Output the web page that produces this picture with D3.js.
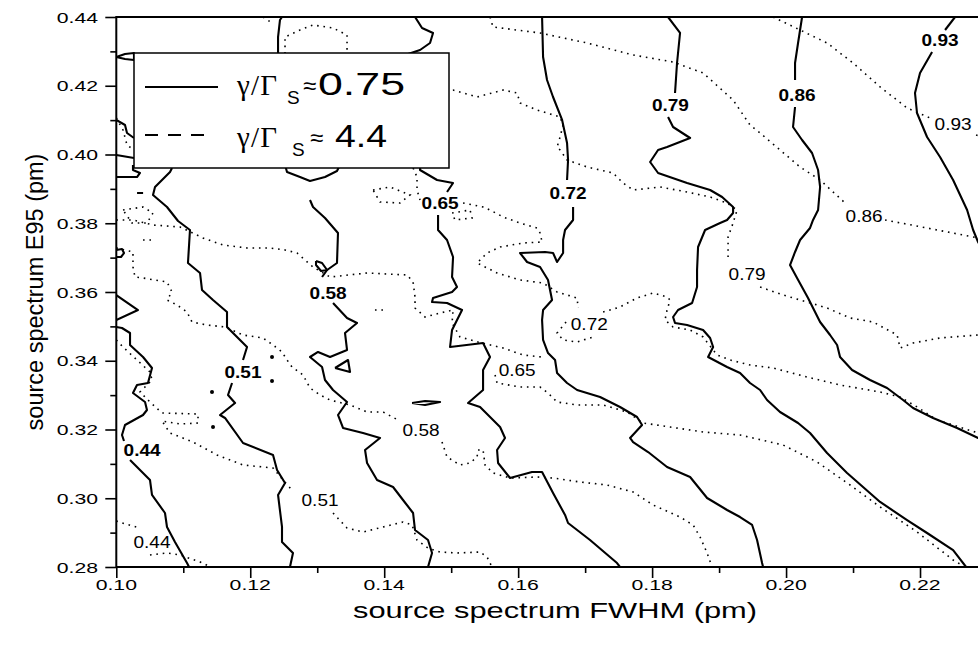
<!DOCTYPE html>
<html><head><meta charset="utf-8">
<script src="https://cdn.jsdelivr.net/npm/d3@7"></script>
<style>body{margin:0;background:#fff}svg{display:block}</style></head>
<body><svg id="c" width="978" height="645"></svg>
<script>
// ---------------- data ----------------
const xMajor = [0.10,0.12,0.14,0.16,0.18,0.20,0.22];
const xMinor = [0.11,0.13,0.15,0.17,0.19,0.21,0.23];
const yMajor = [0.28,0.30,0.32,0.34,0.36,0.38,0.40,0.42,0.44];
const yMinor = [0.29,0.31,0.33,0.35,0.37,0.39,0.41,0.43];
const xTitle = "source spectrum FWHM (pm)";
const yTitle = "source spectrum E95 (pm)";
const levels = ["0.44","0.51","0.58","0.65","0.72","0.79","0.86","0.93"];
const legendValues = ["0.75","4.4"];

// series A: gamma/Gamma_S ~ 0.75 (solid), each level is a list of segments of [FWHM, E95]
const s44 = [[[0.1000,0.3591],[0.10324,0.35476],[0.1000,0.35185]],
 [[0.1000,0.3498],[0.10085,0.34953],[0.10205,0.34807],[0.10205,0.34458],[0.10399,0.34109],[0.10533,0.33789],[0.10473,0.33353],[0.10309,0.33295],[0.10249,0.33062],[0.10429,0.328],[0.10458,0.32567],[0.10399,0.32422],[0.1013,0.32131],[0.10085,0.3184],[0.10115,0.31665]],
 [[0.10205,0.31113],[0.10503,0.30531],[0.10533,0.30095],[0.10727,0.29571],[0.10757,0.29164],[0.10876,0.28727],[0.11056,0.28116],[0.11086,0.28]]];
const s51 = [[[0.10832,0.39607],[0.10802,0.39491],[0.10578,0.39055],[0.10548,0.38822],[0.10757,0.38473],[0.10922,0.38065],[0.111,0.37804],[0.1107,0.36844],[0.1125,0.36553],[0.1128,0.36058],[0.11444,0.35767],[0.11653,0.35418],[0.11653,0.34982],[0.11952,0.344],[0.11892,0.34022]],
 [[0.11728,0.33353],[0.11668,0.33004],[0.11773,0.32771],[0.11549,0.32422],[0.11623,0.32335],[0.11892,0.31607],[0.1234,0.31258],[0.124,0.30822],[0.12519,0.30444],[0.12415,0.30095],[0.12474,0.29164],[0.12474,0.28727],[0.12638,0.28407],[0.12593,0.28]]];
const s58 = [[[0.12474,0.44],[0.12444,0.43913],[0.12415,0.43418],[0.12415,0.42749]],
 [[0.12519,0.39695],[0.12549,0.39491],[0.12743,0.39345],[0.12892,0.39229],[0.13116,0.39345],[0.13295,0.3952],[0.1334,0.39695]],
 [[0.12892,0.38676],[0.12937,0.38473],[0.13116,0.38153],[0.1331,0.37716],[0.13295,0.36844],[0.13147,0.3664],[0.13072,0.36436]],
 [[0.13236,0.3568],[0.13445,0.35244],[0.13594,0.35098],[0.13415,0.34807],[0.13445,0.34313],[0.13191,0.34109],[0.13012,0.34255],[0.12892,0.34109],[0.13072,0.33818],[0.13116,0.3344],[0.13236,0.33149],[0.13445,0.328],[0.1331,0.32422],[0.13385,0.32044],[0.13684,0.31898],[0.13938,0.31753],[0.13714,0.31404],[0.13744,0.31025],[0.13893,0.30531],[0.14132,0.30327],[0.14281,0.29949],[0.14431,0.29571],[0.1446,0.29076],[0.14654,0.28785],[0.14714,0.28407],[0.14654,0.28]]];
const s65 = [[[0.1446,0.44],[0.14565,0.4368],[0.14729,0.43535],[0.14684,0.43244],[0.14535,0.4304],[0.14311,0.42895]],
 [[0.14535,0.39695],[0.14535,0.39549],[0.14789,0.39258],[0.15028,0.39171],[0.14938,0.38909]],
 [[0.14804,0.3824],[0.14804,0.37804],[0.14938,0.37513],[0.15028,0.37018],[0.15013,0.36436],[0.15087,0.36145],[0.15013,0.36],[0.14729,0.35825],[0.14714,0.35709],[0.14938,0.3568],[0.15162,0.35476],[0.15013,0.34895],[0.14983,0.344],[0.15476,0.34516],[0.1558,0.34109],[0.15476,0.33731],[0.15476,0.33149],[0.15252,0.32771],[0.15431,0.32655],[0.1573,0.32073],[0.15804,0.31753],[0.15685,0.31404],[0.157,0.31025],[0.15879,0.30589],[0.16207,0.30764],[0.16357,0.30764],[0.16521,0.30153],[0.167,0.29513],[0.16745,0.2928],[0.17073,0.28785],[0.17476,0.28116],[0.17521,0.28]]];
const s72 = [[[0.16357,0.44],[0.16372,0.42836],[0.16431,0.42167],[0.16521,0.41673],[0.16656,0.41004],[0.1673,0.40335],[0.16745,0.3984],[0.1673,0.39258]],
 [[0.1682,0.38473],[0.1682,0.38095],[0.167,0.37804],[0.16671,0.37513],[0.16671,0.37135],[0.16581,0.36873],[0.16521,0.37135],[0.16402,0.37164],[0.16028,0.37135],[0.16133,0.36873],[0.16327,0.36727],[0.16446,0.36349],[0.16506,0.35767],[0.16372,0.35476],[0.16357,0.35185],[0.16372,0.34604],[0.16446,0.34225],[0.16551,0.34022],[0.16581,0.33644],[0.1673,0.33353],[0.1688,0.33149],[0.17223,0.32945],[0.17521,0.32655],[0.17775,0.32364],[0.1785,0.32131],[0.17671,0.31753],[0.17716,0.31636],[0.1794,0.31345],[0.18223,0.30909],[0.18567,0.30618],[0.18821,0.30007],[0.19119,0.29658],[0.19313,0.29454],[0.19493,0.29222],[0.19567,0.28785],[0.19642,0.28116],[0.19657,0.28]]];
const s79 = [[[0.18238,0.44],[0.18417,0.43535],[0.18372,0.42662],[0.18342,0.41789]],
 [[0.18238,0.41091],[0.18313,0.408],[0.18567,0.4048],[0.18223,0.40218],[0.18089,0.40131],[0.1797,0.39782],[0.18089,0.39462],[0.18522,0.39171],[0.18866,0.38967],[0.19045,0.38764],[0.19209,0.38473],[0.19209,0.38298],[0.19119,0.38095],[0.19015,0.38007],[0.18791,0.37804],[0.18686,0.37309],[0.18671,0.3664],[0.18671,0.36145],[0.18597,0.3568],[0.18387,0.35476],[0.18313,0.35273],[0.18342,0.35098],[0.18522,0.3504],[0.18761,0.34895],[0.18866,0.34662],[0.18911,0.344],[0.18836,0.34109],[0.19119,0.33818],[0.19313,0.33644],[0.19462,0.33353],[0.19612,0.33149],[0.19716,0.32858],[0.1991,0.32509],[0.20179,0.32189],[0.20358,0.31898],[0.20612,0.31316],[0.20911,0.30735],[0.21404,0.29891],[0.21807,0.29367],[0.22105,0.28989],[0.22494,0.28494],[0.22688,0.28]]];
const s86 = [[[0.20239,0.44],[0.20179,0.43244],[0.20134,0.42662],[0.20134,0.42167]],
 [[0.20134,0.41382],[0.20104,0.408],[0.20239,0.40422],[0.20388,0.40044],[0.20478,0.39549],[0.20508,0.39055],[0.20478,0.38385],[0.20403,0.38095],[0.20358,0.37862],[0.20209,0.37513],[0.20134,0.37164],[0.20059,0.36785],[0.20164,0.36407],[0.20328,0.35825],[0.20508,0.35127],[0.20657,0.34749],[0.20762,0.34458],[0.20806,0.34109],[0.20986,0.33731],[0.21254,0.3344],[0.21508,0.33207],[0.21747,0.32858],[0.21896,0.32625],[0.22195,0.32335],[0.22553,0.32044],[0.22867,0.31753],[0.23046,0.31607]]];
const s93 = [[[0.22523,0.44],[0.22374,0.43622]],
 [[0.2218,0.42982],[0.22,0.42371],[0.21925,0.41789],[0.21955,0.41207],[0.22105,0.40509],[0.22299,0.39927],[0.22494,0.39258],[0.22703,0.38385],[0.22793,0.37804],[0.22867,0.37455],[0.22972,0.37076]]];
const sSmall = [
 [[0.1000,0.37222],[0.10085,0.37251],[0.10115,0.37134],[0.1007,0.37018],[0.1000,0.37018]],
 [[0.1000,0.42836],[0.1013,0.42924],[0.10264,0.42953],[0.10264,0.42749],[0.1013,0.42778],[0.1000,0.42836]],
 [[0.1000,0.41004],[0.1013,0.40858],[0.1016,0.40625],[0.10264,0.4048]],
 [[0.1000,0.39985],[0.10264,0.39898]],
 [[0.10249,0.39695],[0.10249,0.39549],[0.10354,0.39462],[0.10309,0.39345],[0.1000,0.39345]],
 [[0.1031,0.3888],[0.1040,0.3888]],
 [[0.13266,0.33789],[0.1346,0.34022],[0.1349,0.33673],[0.13266,0.33789]],
 [[0.12982,0.36902],[0.13072,0.36844],[0.13147,0.3664],[0.13057,0.36611],[0.12982,0.36785],[0.12982,0.36902]],
 [[0.14416,0.32771],[0.1461,0.32829],[0.14834,0.328],[0.1461,0.32713],[0.14416,0.32771]]];
const sDots = [[0.12325,0.34109],[0.12325,0.33411],[0.11429,0.33091],[0.11444,0.32073]];

// series B: gamma/Gamma_S ~ 4.4 (dotted)
const d44 = [[[0.1000,0.29338],[0.10085,0.2928],[0.10354,0.29135]],
 [[0.10503,0.28349],[0.10757,0.28407],[0.10952,0.28349],[0.11295,0.28116],[0.114,0.28]]];
const d51 = [[[0.1000,0.34604],[0.101,0.344],[0.10309,0.34022],[0.10503,0.33673],[0.10533,0.3344],[0.10354,0.33091],[0.10503,0.328],[0.10682,0.3248],[0.1122,0.32451],[0.1122,0.32189],[0.10952,0.3216],[0.10682,0.32247],[0.10802,0.31898],[0.11145,0.31636],[0.11504,0.31258],[0.11892,0.30967],[0.1234,0.3088],[0.12489,0.30531],[0.12623,0.3024]],
 [[0.13236,0.29571],[0.13445,0.29135],[0.13684,0.29018],[0.13983,0.29164],[0.14281,0.29309],[0.14416,0.29222],[0.1449,0.28785],[0.14654,0.28553],[0.14834,0.28436],[0.15087,0.28407],[0.15431,0.28436],[0.15536,0.28291],[0.1561,0.28]]];
const d58 = [[[0.1000,0.3728],[0.1013,0.37222],[0.10249,0.37164],[0.10249,0.36727],[0.10279,0.36436],[0.10399,0.36407],[0.10757,0.36291],[0.10832,0.36],[0.10757,0.35767],[0.10906,0.35622],[0.11056,0.35418],[0.1113,0.35127],[0.11354,0.3504],[0.11623,0.34982],[0.11892,0.34749],[0.12191,0.34662],[0.1234,0.34458],[0.12474,0.34255],[0.12549,0.34022],[0.12623,0.33818],[0.12788,0.33585],[0.12892,0.33207],[0.13042,0.33004],[0.13191,0.32858],[0.1349,0.32713],[0.13744,0.32509],[0.13983,0.32509],[0.14236,0.32247]],
 [[0.14863,0.31636],[0.14938,0.312],[0.15132,0.30967],[0.15282,0.31025],[0.15386,0.312],[0.15401,0.31404],[0.15476,0.31404],[0.15506,0.30967],[0.15625,0.30735],[0.15879,0.30589],[0.16282,0.30618],[0.16521,0.30589],[0.16924,0.30473],[0.17327,0.30385],[0.17716,0.30182],[0.18014,0.29804],[0.18417,0.29454],[0.18612,0.29222],[0.18716,0.28873],[0.18821,0.28407],[0.18895,0.28]]];
const d65 = [[[0.1000,0.38095],[0.10249,0.38095],[0.10548,0.37949],[0.10952,0.37891],[0.11295,0.37571],[0.11593,0.37367],[0.11952,0.3728],[0.12295,0.3728],[0.12519,0.37222],[0.12698,0.37135],[0.12937,0.36727],[0.13191,0.36436],[0.13744,0.36553],[0.14341,0.36495],[0.14431,0.36291],[0.1446,0.35855],[0.1446,0.35535],[0.1461,0.35273],[0.14834,0.35389],[0.15028,0.35476],[0.15013,0.35098],[0.15132,0.34691],[0.15401,0.34545],[0.15775,0.34371],[0.16073,0.34167],[0.16357,0.34109]],
 [[0.15655,0.33585],[0.15685,0.33353],[0.16028,0.33236],[0.16327,0.33236],[0.16446,0.33062],[0.16581,0.328],[0.1688,0.32713],[0.17268,0.32713],[0.17627,0.32509],[0.17865,0.32189],[0.18268,0.32073],[0.18761,0.31927],[0.19313,0.3184],[0.19955,0.31549],[0.20463,0.31055],[0.20956,0.30385],[0.21404,0.29745],[0.21957,0.29018],[0.22494,0.28204],[0.22673,0.28]]];
const d72 = [[[0.14431,0.39607],[0.1449,0.39345],[0.1449,0.38967],[0.14535,0.38676]],
 [[0.15177,0.38589],[0.15476,0.38473],[0.1558,0.38385],[0.15775,0.38182],[0.16028,0.38007],[0.16282,0.37862],[0.16327,0.37716],[0.16357,0.37455],[0.16073,0.37425],[0.1573,0.37309],[0.15536,0.37135],[0.15386,0.36844],[0.15685,0.36553],[0.16028,0.36349],[0.16372,0.36262],[0.16581,0.36],[0.1688,0.35825],[0.16895,0.35535]],
 [[0.16715,0.35127],[0.16581,0.34807],[0.16671,0.34604],[0.1688,0.34545],[0.17119,0.34691]],
 [[0.17268,0.35418],[0.17521,0.35564],[0.17775,0.35825],[0.18014,0.35971],[0.18223,0.35855],[0.18268,0.35767],[0.18223,0.35476],[0.18193,0.35185],[0.18313,0.34982],[0.18567,0.34895],[0.18761,0.34691],[0.18911,0.34313],[0.1897,0.34167],[0.19165,0.34022],[0.19462,0.33876],[0.19806,0.33789],[0.20313,0.33527],[0.20806,0.33295],[0.21404,0.33091],[0.21703,0.32945],[0.21957,0.32655],[0.22255,0.32276],[0.22494,0.32131],[0.22867,0.31898],[0.23046,0.31782]]];
const d79 = [[[0.14834,0.41876],[0.15028,0.41876],[0.15386,0.41673],[0.15775,0.41876],[0.15984,0.41789],[0.16028,0.41498],[0.16282,0.41295],[0.16626,0.41091],[0.16671,0.40858],[0.16626,0.40509],[0.16581,0.40218],[0.16626,0.40131],[0.1673,0.3984],[0.17029,0.39636],[0.17417,0.39462],[0.17566,0.39171],[0.17716,0.38967],[0.18119,0.39055],[0.18522,0.38909],[0.18866,0.38764],[0.19119,0.38589],[0.19268,0.38385],[0.19209,0.38007],[0.19134,0.376],[0.19134,0.37018]],
 [[0.19612,0.36145],[0.19955,0.35913],[0.20313,0.35709],[0.20612,0.35535],[0.20956,0.35244],[0.213,0.35127],[0.21658,0.34749],[0.21703,0.34371],[0.21896,0.34516],[0.22299,0.34662],[0.22867,0.34749],[0.23046,0.34749]]];
const d86 = [[[0.1558,0.44],[0.15625,0.43709],[0.16327,0.43535],[0.17029,0.43244],[0.17716,0.42895],[0.18313,0.42691],[0.18761,0.42371],[0.18911,0.42109],[0.19209,0.41585],[0.19462,0.40858],[0.19612,0.40625],[0.1991,0.40131],[0.20209,0.39636],[0.20508,0.39258],[0.20881,0.38589]],
 [[0.21478,0.38095],[0.22105,0.37862],[0.22793,0.376],[0.23046,0.37513]]];
const d93 = [[[0.19806,0.44],[0.20209,0.43622],[0.20612,0.43244],[0.21,0.42662],[0.21404,0.41964],[0.21807,0.41353],[0.2215,0.41062]],
 [[0.22837,0.40567],[0.23046,0.40422]]];
const dSmall = [
 [[0.12519,0.42749],[0.12519,0.43418],[0.12743,0.43622],[0.12937,0.43767],[0.13236,0.4368],[0.13445,0.43476],[0.13445,0.42749]],
 [[0.12191,0.44],[0.12325,0.43825]],
 [[0.101,0.38385],[0.10399,0.38473],[0.10548,0.38298],[0.10458,0.38007],[0.10234,0.38007],[0.101,0.38385]],
 [[0.13833,0.38967],[0.14087,0.39055],[0.14386,0.38822],[0.14236,0.38589],[0.13938,0.38618],[0.13833,0.38967]],
 [[0.15013,0.38298],[0.15282,0.38385],[0.15312,0.38153],[0.15057,0.38095],[0.15013,0.38298]],
 [[0.1000,0.41062],[0.101,0.40713],[0.1016,0.40276],[0.10264,0.40131]],
 [[0.13862,0.35476],[0.14042,0.35476]],
 [[0.10399,0.37513],[0.10578,0.37513]]];

// contour label anchors (FWHM, E95)
const solidLabelPos = [[0.10385,0.31404],[0.11892,0.33673],[0.13162,0.35971],[0.14834,0.38589],[0.16745,0.3888],[0.18273,0.4144],[0.20164,0.41731],[0.22299,0.43331]];
const dotLabelPos = [[0.10533,0.28727],[0.13042,0.29949],[0.1455,0.31985],[0.15985,0.33731],[0.17062,0.35069],[0.19418,0.36524],[0.21165,0.38211],[0.22494,0.40887]];

// ---------------- drawing ----------------
const svg = d3.select("#c");
const x = d3.scaleLinear().domain([0.10,0.23]).range([116.3,987]);
const y = d3.scaleLinear().domain([0.28,0.44]).range([567,17]);
const FONT = "'Liberation Sans', Arial, Helvetica, sans-serif";
const SX = 1.37; // horizontal stretch of the reference lettering

svg.append("defs").append("clipPath").attr("id","clip")
  .append("rect").attr("x",x(0.10)).attr("y",y(0.44)).attr("width",x(0.23)-x(0.10)).attr("height",y(0.28)-y(0.44));

const line = d3.line().x(d=>x(d[0])).y(d=>y(d[1]));
const plot = svg.append("g").attr("clip-path","url(#clip)");

const solidAll = [s44,s51,s58,s65,s72,s79,s86,s93].flat().concat(sSmall);
const dotAll = [d44,d51,d58,d65,d72,d79,d86,d93].flat().concat(dSmall);

plot.selectAll("path.dot").data(dotAll).join("path").attr("class","dot")
  .attr("d",line).attr("fill","none").attr("stroke","#000").attr("stroke-width",1.6)
  .attr("stroke-dasharray","1.6,4.8");
plot.selectAll("path.sol").data(solidAll).join("path").attr("class","sol")
  .attr("d",line).attr("fill","none").attr("stroke","#000").attr("stroke-width",2.1)
  .attr("stroke-linejoin","round");
plot.selectAll("circle.sd").data(sDots).join("circle").attr("class","sd")
  .attr("cx",d=>x(d[0])).attr("cy",d=>y(d[1])).attr("r",2).attr("fill","#000");

// contour labels
function lab(g, pos, txt, bold){
  g.append("text").attr("transform",`translate(${x(pos[0])},${y(pos[1])}) scale(1.12,1)`)
   .attr("text-anchor","middle").attr("dy","0.36em")
   .attr("font-family",FONT).attr("font-size",17).attr("font-weight",bold?"bold":"normal")
   .attr("fill","#000").text(txt);
}
const labG = svg.append("g");
levels.forEach((t,i)=>{ lab(labG, solidLabelPos[i], t, true); lab(labG, dotLabelPos[i], t, false); });

// axes
const ax = svg.append("g");
ax.append("g").attr("transform",`translate(0,${y(0.28)})`)
  .call(d3.axisBottom(x).tickValues(xMinor).tickSize(6).tickFormat("").tickSizeOuter(0))
  .call(g=>g.select(".domain").remove());
ax.append("g").attr("transform",`translate(0,${y(0.28)})`)
  .call(d3.axisBottom(x).tickValues(xMajor).tickSize(11).tickFormat("").tickSizeOuter(0))
  .call(g=>g.select(".domain").remove());
ax.append("g").attr("transform",`translate(${x(0.10)},0)`)
  .call(d3.axisLeft(y).tickValues(yMinor).tickSize(6).tickFormat("").tickSizeOuter(0))
  .call(g=>g.select(".domain").remove());
ax.append("g").attr("transform",`translate(${x(0.10)},0)`)
  .call(d3.axisLeft(y).tickValues(yMajor).tickSize(11).tickFormat("").tickSizeOuter(0))
  .call(g=>g.select(".domain").remove());
ax.selectAll(".tick line").attr("stroke","#000").attr("stroke-width",1.6);
// frame
ax.append("rect").attr("x",x(0.10)).attr("y",y(0.44)).attr("width",x(0.23)-x(0.10)).attr("height",y(0.28)-y(0.44))
  .attr("fill","none").attr("stroke","#000").attr("stroke-width",2);

// tick labels
xMajor.forEach(v=>{
  ax.append("text").attr("transform",`translate(${x(v)},590) scale(${SX},1)`)
    .attr("text-anchor","middle").attr("font-family",FONT).attr("font-size",15.5).text(d3.format(".2f")(v));
});
yMajor.forEach(v=>{
  ax.append("text").attr("transform",`translate(98,${y(v)}) scale(${SX},1)`)
    .attr("text-anchor","end").attr("dy","0.36em").attr("font-family",FONT).attr("font-size",15.5).text(d3.format(".2f")(v));
});
// titles
ax.append("text").attr("transform",`translate(555,618) scale(${SX},1)`)
  .attr("text-anchor","middle").attr("font-family",FONT).attr("font-size",22.5).text(xTitle);
ax.append("text").attr("transform",`translate(43,${(y(0.28)+y(0.44))/2}) rotate(-90)`)
  .attr("text-anchor","middle").attr("font-family",FONT).attr("font-size",23.5).text(yTitle);

// legend
const lg = svg.append("g");
lg.append("rect").attr("x",134).attr("y",53).attr("width",315).attr("height",115)
  .attr("fill","#fff").attr("stroke","#000").attr("stroke-width",1.5);
lg.append("line").attr("x1",145).attr("x2",218).attr("y1",87).attr("y2",87).attr("stroke","#000").attr("stroke-width",2.2);
lg.append("line").attr("x1",145).attr("x2",206).attr("y1",135).attr("y2",135).attr("stroke","#000").attr("stroke-width",2.2).attr("stroke-dasharray","13,10");
const rows = [{by:95, sx:287, ax:303, nx:318, nw:87},{by:147, sx:292, ax:310, nx:335, nw:52}];
rows.forEach((r,i)=>{
  lg.append("text").attr("x",237).attr("y",r.by).attr("font-family","'Liberation Serif','Times New Roman',serif").attr("font-size",29)
    .attr("textLength",40).attr("lengthAdjust","spacing").text("γ/Γ");
  lg.append("text").attr("x",r.sx).attr("y",r.by+9).attr("font-family",FONT).attr("font-size",19).text("S");
  lg.append("text").attr("x",r.ax).attr("y",r.by-1).attr("font-family",FONT).attr("font-size",24).text("≈");
  lg.append("text").attr("x",r.nx).attr("y",r.by).attr("font-family",FONT).attr("font-size",32)
    .attr("textLength",r.nw).attr("lengthAdjust","spacingAndGlyphs").text(legendValues[i]);
});
</script></body></html>
